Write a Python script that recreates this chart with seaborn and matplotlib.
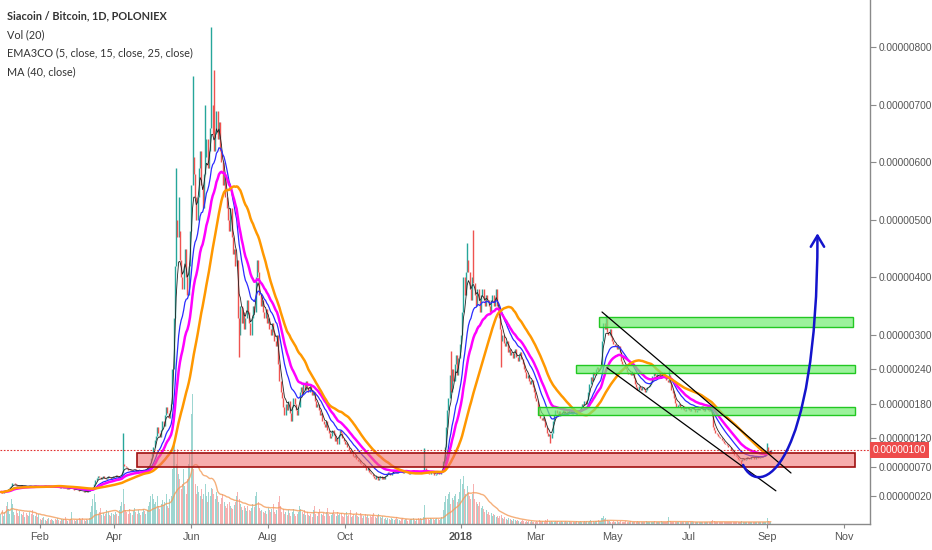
import numpy as np
import pandas as pd
import matplotlib
matplotlib.use("Agg")
import matplotlib.pyplot as plt
import matplotlib.dates as mdates
import matplotlib.transforms as mtransforms
from matplotlib.path import Path
from matplotlib.patches import FancyArrowPatch, Rectangle
import seaborn as sns

# daily closes in satoshi (1e-8 BTC), one row per month
close_2017 = [
    27,26,28,30,29,31,33,35,38,42,43,40,39,38,37,38,39,38,37,38,37,36,37,38,37,36,37,38,37,36,37,
    36,37,36,37,38,37,36,37,36,35,36,37,36,35,36,35,34,35,34,35,34,33,34,33,32,33,32,31,
    31,30,30,29,28,29,28,27,28,27,28,29,30,33,36,41,47,52,55,53,50,52,54,51,49,52,55,53,50,52,54,
    53,56,55,52,54,57,60,75,72,70,68,66,64,66,63,65,67,64,62,65,66,63,64,66,65,67,69,72,78,86,
    95,105,118,125,140,130,122,135,150,142,160,175,165,155,170,180,240,330,420,500,470,480,430,400,380,420,450,400,370,420,480,
    560,610,580,540,500,540,590,620,560,520,580,610,640,590,620,660,700,650,620,650,690,640,670,620,600,560,580,540,520,500,
    480,520,470,440,450,420,430,330,300,350,320,340,310,330,360,340,320,300,330,350,340,400,430,410,370,350,360,340,330,345,320,
    330,310,300,320,305,290,280,300,250,220,200,190,175,160,180,170,185,165,150,175,190,180,170,160,175,200,210,195,215,205,220,
    210,200,215,205,195,200,185,175,180,170,160,165,150,145,140,150,135,130,120,125,135,130,115,120,110,125,135,130,120,115,
    110,112,105,100,95,98,90,88,92,85,80,82,78,75,72,74,70,65,68,62,60,58,55,52,50,54,48,52,55,50,53,
    50,55,58,62,60,57,60,63,65,62,60,63,66,64,61,60,62,65,63,60,58,62,64,66,63,61,64,62,60,63,
    62,65,68,64,62,60,58,61,63,60,57,59,62,60,58,61,65,80,105,140,170,190,230,200,240,220,250,265,230,260,285,
]
close_2018 = [
    300,340,400,370,410,430,410,380,360,400,390,370,350,380,360,340,370,380,360,350,370,360,350,340,360,370,350,360,380,350,330,
    310,290,300,286,280,290,270,275,265,270,260,268,275,262,255,265,270,258,250,240,235,225,230,220,215,222,210,200,
    190,185,175,160,155,152,158,150,140,130,125,128,120,130,150,160,170,165,162,168,160,165,170,163,167,160,165,170,166,162,168,
    165,160,168,163,170,175,180,178,185,180,187,200,215,227,220,235,230,240,245,238,243,245,290,320,310,330,305,300,310,296,
    290,285,280,282,275,280,270,255,250,248,244,240,236,232,234,230,236,225,215,210,205,212,208,204,210,206,200,205,210,212,215,
    220,228,234,230,226,232,234,225,228,235,230,226,222,218,230,216,205,199,190,182,175,178,180,174,172,176,170,168,172,175,
    170,168,172,175,171,166,170,173,169,172,176,170,167,171,174,170,168,172,165,140,135,130,128,125,123,120,118,115,112,110,108,
    106,105,100,98,95,92,90,88,85,83,80,84,86,82,85,88,86,84,87,90,88,85,87,89,86,88,90,87,89,92,94,
    105,98,96,100,
]

# daily volume, relative units
vol_2017 = [
    10,14,8,12,18,22,15,10,25,20,12,9,14,11,8,13,10,9,12,7,11,9,8,12,10,14,9,8,11,7,10,
    5,4,6,7,4,3,5,6,4,5,4,3,5,4,6,4,3,5,4,5,7,4,3,4,5,12,4,4,
    3,4,4,6,5,4,6,4,3,5,4,6,12,18,25,30,22,14,10,12,16,9,11,8,10,14,12,9,8,11,10,
    9,12,10,8,14,18,22,35,20,14,12,10,15,11,9,13,16,12,10,14,11,9,12,15,13,10,14,18,22,28,
    30,25,20,22,28,18,15,20,24,19,22,30,18,16,25,28,55,80,85,60,75,50,45,35,40,55,38,30,45,60,70,
    110,130,55,40,30,38,32,28,35,25,30,40,28,22,32,28,36,35,30,25,32,28,22,20,26,30,22,18,16,20,
    22,18,16,15,19,22,28,32,25,20,17,14,18,16,13,18,14,13,16,20,17,28,32,22,16,13,14,12,11,13,10,
    16,14,12,15,20,12,10,14,22,28,18,12,15,10,12,9,14,11,8,12,15,10,8,10,12,18,15,12,10,14,9,
    12,9,8,10,7,14,18,10,8,12,15,10,9,11,8,12,16,10,8,9,11,14,10,8,12,9,10,11,8,7,
    10,12,8,9,14,7,8,10,9,12,8,7,11,9,6,8,10,7,9,6,8,7,9,11,7,6,8,10,7,6,8,
    5,6,4,6,5,4,6,5,4,5,7,5,4,3,5,6,4,5,5,3,4,5,5,6,4,3,5,6,4,6,
    5,7,19,6,5,5,4,6,5,5,4,5,6,5,4,5,7,14,22,28,25,30,32,20,26,24,28,30,22,25,32,
]
vol_2018 = [
    45,40,48,35,30,38,32,28,25,30,40,25,22,20,18,22,16,18,15,12,14,10,12,9,11,8,10,9,7,8,6,
    8,9,6,5,7,5,4,6,5,4,3,5,4,3,4,3,2,3,4,3,2,3,2,3,2,3,2,2,
    2,3,2,4,3,2,3,2,4,3,5,3,2,3,2,2,3,2,3,2,2,3,2,2,3,2,2,3,2,2,2,
    2,2,3,2,2,3,2,2,3,2,3,2,3,4,3,3,2,3,3,4,3,3,6,8,5,6,4,3,3,2,
    2,3,2,2,3,2,2,3,2,2,2,3,2,2,2,3,2,2,2,2,3,2,2,2,2,2,2,3,2,2,2,
    2,2,2,3,2,2,2,2,3,2,2,2,2,3,7,3,2,2,2,2,2,2,2,2,2,2,2,2,2,2,
    2,2,2,2,2,2,2,2,2,2,2,2,2,2,2,2,2,2,3,4,3,2,2,2,2,2,2,2,2,2,2,
    2,2,2,2,2,2,2,2,2,2,2,3,2,2,2,2,2,2,2,2,2,2,2,2,2,2,2,2,2,2,2,
    6,3,2,2,
]

# notable wicks
wick_high = {"2017-04-08": 129, "2017-05-20": 590, "2017-05-22": 540, "2017-06-02": 750,
             "2017-06-12": 700, "2017-06-17": 836, "2017-06-19": 760, "2017-12-03": 103,
             "2017-12-24": 272, "2018-01-06": 460, "2018-01-11": 483, "2018-04-26": 335,
             "2018-06-15": 242, "2018-09-01": 112}
wick_low = {"2017-07-09": 262, "2018-02-02": 245, "2018-03-13": 113, "2018-08-11": 76}

price_ticks = [20, 70, 120, 180, 240, 300, 400, 500, 600, 700, 800]
month_ticks = ["2017-02-01", "2017-04-01", "2017-06-01", "2017-08-01", "2017-10-01", "2018-01-01",
               "2018-03-01", "2018-05-01", "2018-07-01", "2018-09-01", "2018-11-01"]
month_labels = ["Feb", "Apr", "Jun", "Aug", "Oct", "2018", "Mar", "May", "Jul", "Sep", "Nov"]

green_zones = [("2018-04-21", "2018-11-08", 314, 331),
               ("2018-04-02", "2018-11-10", 234, 248),
               ("2018-03-03", "2018-11-10", 161, 175)]
red_zone = ("2017-04-19", "2018-11-10", 70, 95)
channel = [(("2018-04-23", 340), ("2018-09-20", 60)),
           (("2018-04-27", 243), ("2018-09-08", 29))]
arrow_pts = [("2018-08-13", 74), ("2018-08-26", 13), ("2018-10-11", 65), ("2018-10-11", 477)]
last_price = 100

dates = pd.date_range("2017-01-01", periods=len(close_2017) + len(close_2018), freq="D")
df = pd.DataFrame({"date": dates, "close": close_2017 + close_2018,
                   "vol": vol_2017 + vol_2018})
df["open"] = df["close"].shift(1).fillna(df["close"])
df["hi"] = df[["open", "close"]].max(axis=1)
df["lo"] = df[["open", "close"]].min(axis=1)
for d, v in wick_high.items():
    df.loc[df.date == d, "hi"] = v
for d, v in wick_low.items():
    df.loc[df.date == d, "lo"] = v
df["ema5"] = df.close.ewm(span=5, adjust=False).mean()
df["ema15"] = df.close.ewm(span=15, adjust=False).mean()
df["ema25"] = df.close.ewm(span=25, adjust=False).mean()
df["ma40"] = df.close.rolling(40, min_periods=1).mean()
df["vma"] = df.vol.rolling(20, min_periods=1).mean()
up = df.close >= df.open

sns.set_style("white")
plt.rcParams["font.family"] = ["Liberation Sans", "DejaVu Sans"]

fig = plt.figure(figsize=(9.32, 5.5), dpi=100)
ax = fig.add_axes([0, 26 / 550, 870 / 932, 524 / 550])
ax2 = ax.twinx()
ax.set_zorder(2)
ax2.set_zorder(1)
ax.patch.set_visible(False)

UP, DN = "#26a69a", "#ef5350"

# volume
ax2.bar(df.date[up], df.vol[up], width=0.8, color=UP, alpha=0.45, linewidth=0)
ax2.bar(df.date[~up], df.vol[~up], width=0.8, color=DN, alpha=0.45, linewidth=0)
sns.lineplot(data=df, x="date", y="vma", ax=ax2, color="#f39c5a", linewidth=1, alpha=0.8)
ax2.set_ylim(0, 524)
ax2.axis("off")

# candles
ax.vlines(df.date[up], df.lo[up], df.hi[up], color=UP, linewidth=1.0)
ax.vlines(df.date[~up], df.lo[~up], df.hi[~up], color=DN, linewidth=1.0)

sns.lineplot(data=df, x="date", y="ema5", ax=ax, color="#222222", linewidth=0.6)
sns.lineplot(data=df, x="date", y="ema15", ax=ax, color="#2b2bff", linewidth=0.9)
sns.lineplot(data=df, x="date", y="ema25", ax=ax, color="#ff00ff", linewidth=1.8)
sns.lineplot(data=df, x="date", y="ma40", ax=ax, color="#ff9800", linewidth=1.8)

num = lambda s: mdates.date2num(pd.Timestamp(s))

for a, b, lo, hi in green_zones:
    ax.add_patch(Rectangle((num(a), lo), num(b) - num(a), hi - lo,
                           fc=(0.45, 0.93, 0.45, 0.7), ec="#22c822", lw=1, zorder=5))
a, b, lo, hi = red_zone
ax.add_patch(Rectangle((num(a), lo), num(b) - num(a), hi - lo,
                       fc=(0.95, 0.42, 0.42, 0.55), ec="#a01010", lw=1.2, zorder=5))

for (d0, v0), (d1, v1) in channel:
    ax.plot([num(d0), num(d1)], [v0, v1], color="black", lw=0.9, zorder=6)

verts = [(num(d), v) for d, v in arrow_pts]
path = Path(verts, [Path.MOVETO, Path.CURVE4, Path.CURVE4, Path.CURVE4])
arr = FancyArrowPatch(path=path, arrowstyle="->,head_length=0.5,head_width=0.3",
                      mutation_scale=16, color="#1414cc", lw=1.8, zorder=7)
ax.add_patch(arr)

ax.axhline(last_price, color="#e03030", ls=(0, (1.5, 1.5)), lw=0.8, zorder=4)
trans = mtransforms.blended_transform_factory(ax.transAxes, ax.transData)
ax.text(1.003, last_price, f"{last_price * 1e-8:.8f}", transform=trans, ha="left", va="center",
        color="white", fontsize=7.3, clip_on=False, zorder=10,
        bbox=dict(boxstyle="square,pad=0.3", fc="#ee4b4b", ec="none"))

start = mdates.date2num(pd.Timestamp("2017-01-01"))
ax.set_xlim(start - 0.79, start + 689.7)
ax.set_ylim(-28.7, 882.6)
ax.set_xlabel("")
ax.set_ylabel("")

ax.yaxis.tick_right()
ax.set_yticks(price_ticks)
ax.set_yticklabels([f"{v * 1e-8:.8f}" for v in price_ticks])
ax.set_xticks([num(m) for m in month_ticks])
ax.set_xticklabels(month_labels)
for t in ax.get_xticklabels():
    if t.get_text() == "2018":
        t.set_fontweight("bold")
ax.tick_params(axis="y", right=True, length=4, width=0.8, color="#8a8a8a",
               labelsize=7.3, labelcolor="#555555", pad=2)
ax.tick_params(axis="x", bottom=True, length=3, width=0.8, color="#8a8a8a",
               labelsize=7.8, labelcolor="#555555", pad=3)
for s in ["top", "left"]:
    ax.spines[s].set_visible(False)
for s in ["right", "bottom"]:
    ax.spines[s].set_color("#8a8a8a")
    ax.spines[s].set_linewidth(1)

legend_lines = ["Siacoin / Bitcoin, 1D, POLONIEX", "Vol (20)",
                "EMA3CO (5, close, 15, close, 25, close)", "MA (40, close)"]
for i, line in enumerate(legend_lines):
    fig.text(7 / 932, 1 - (16 + 18.5 * i) / 550, line, ha="left", va="center",
             fontsize=7.8, color="#333333", family=["Lato", "DejaVu Sans"],
             fontweight="bold" if i == 0 else "normal")

fig.savefig("out.png", dpi=100)
